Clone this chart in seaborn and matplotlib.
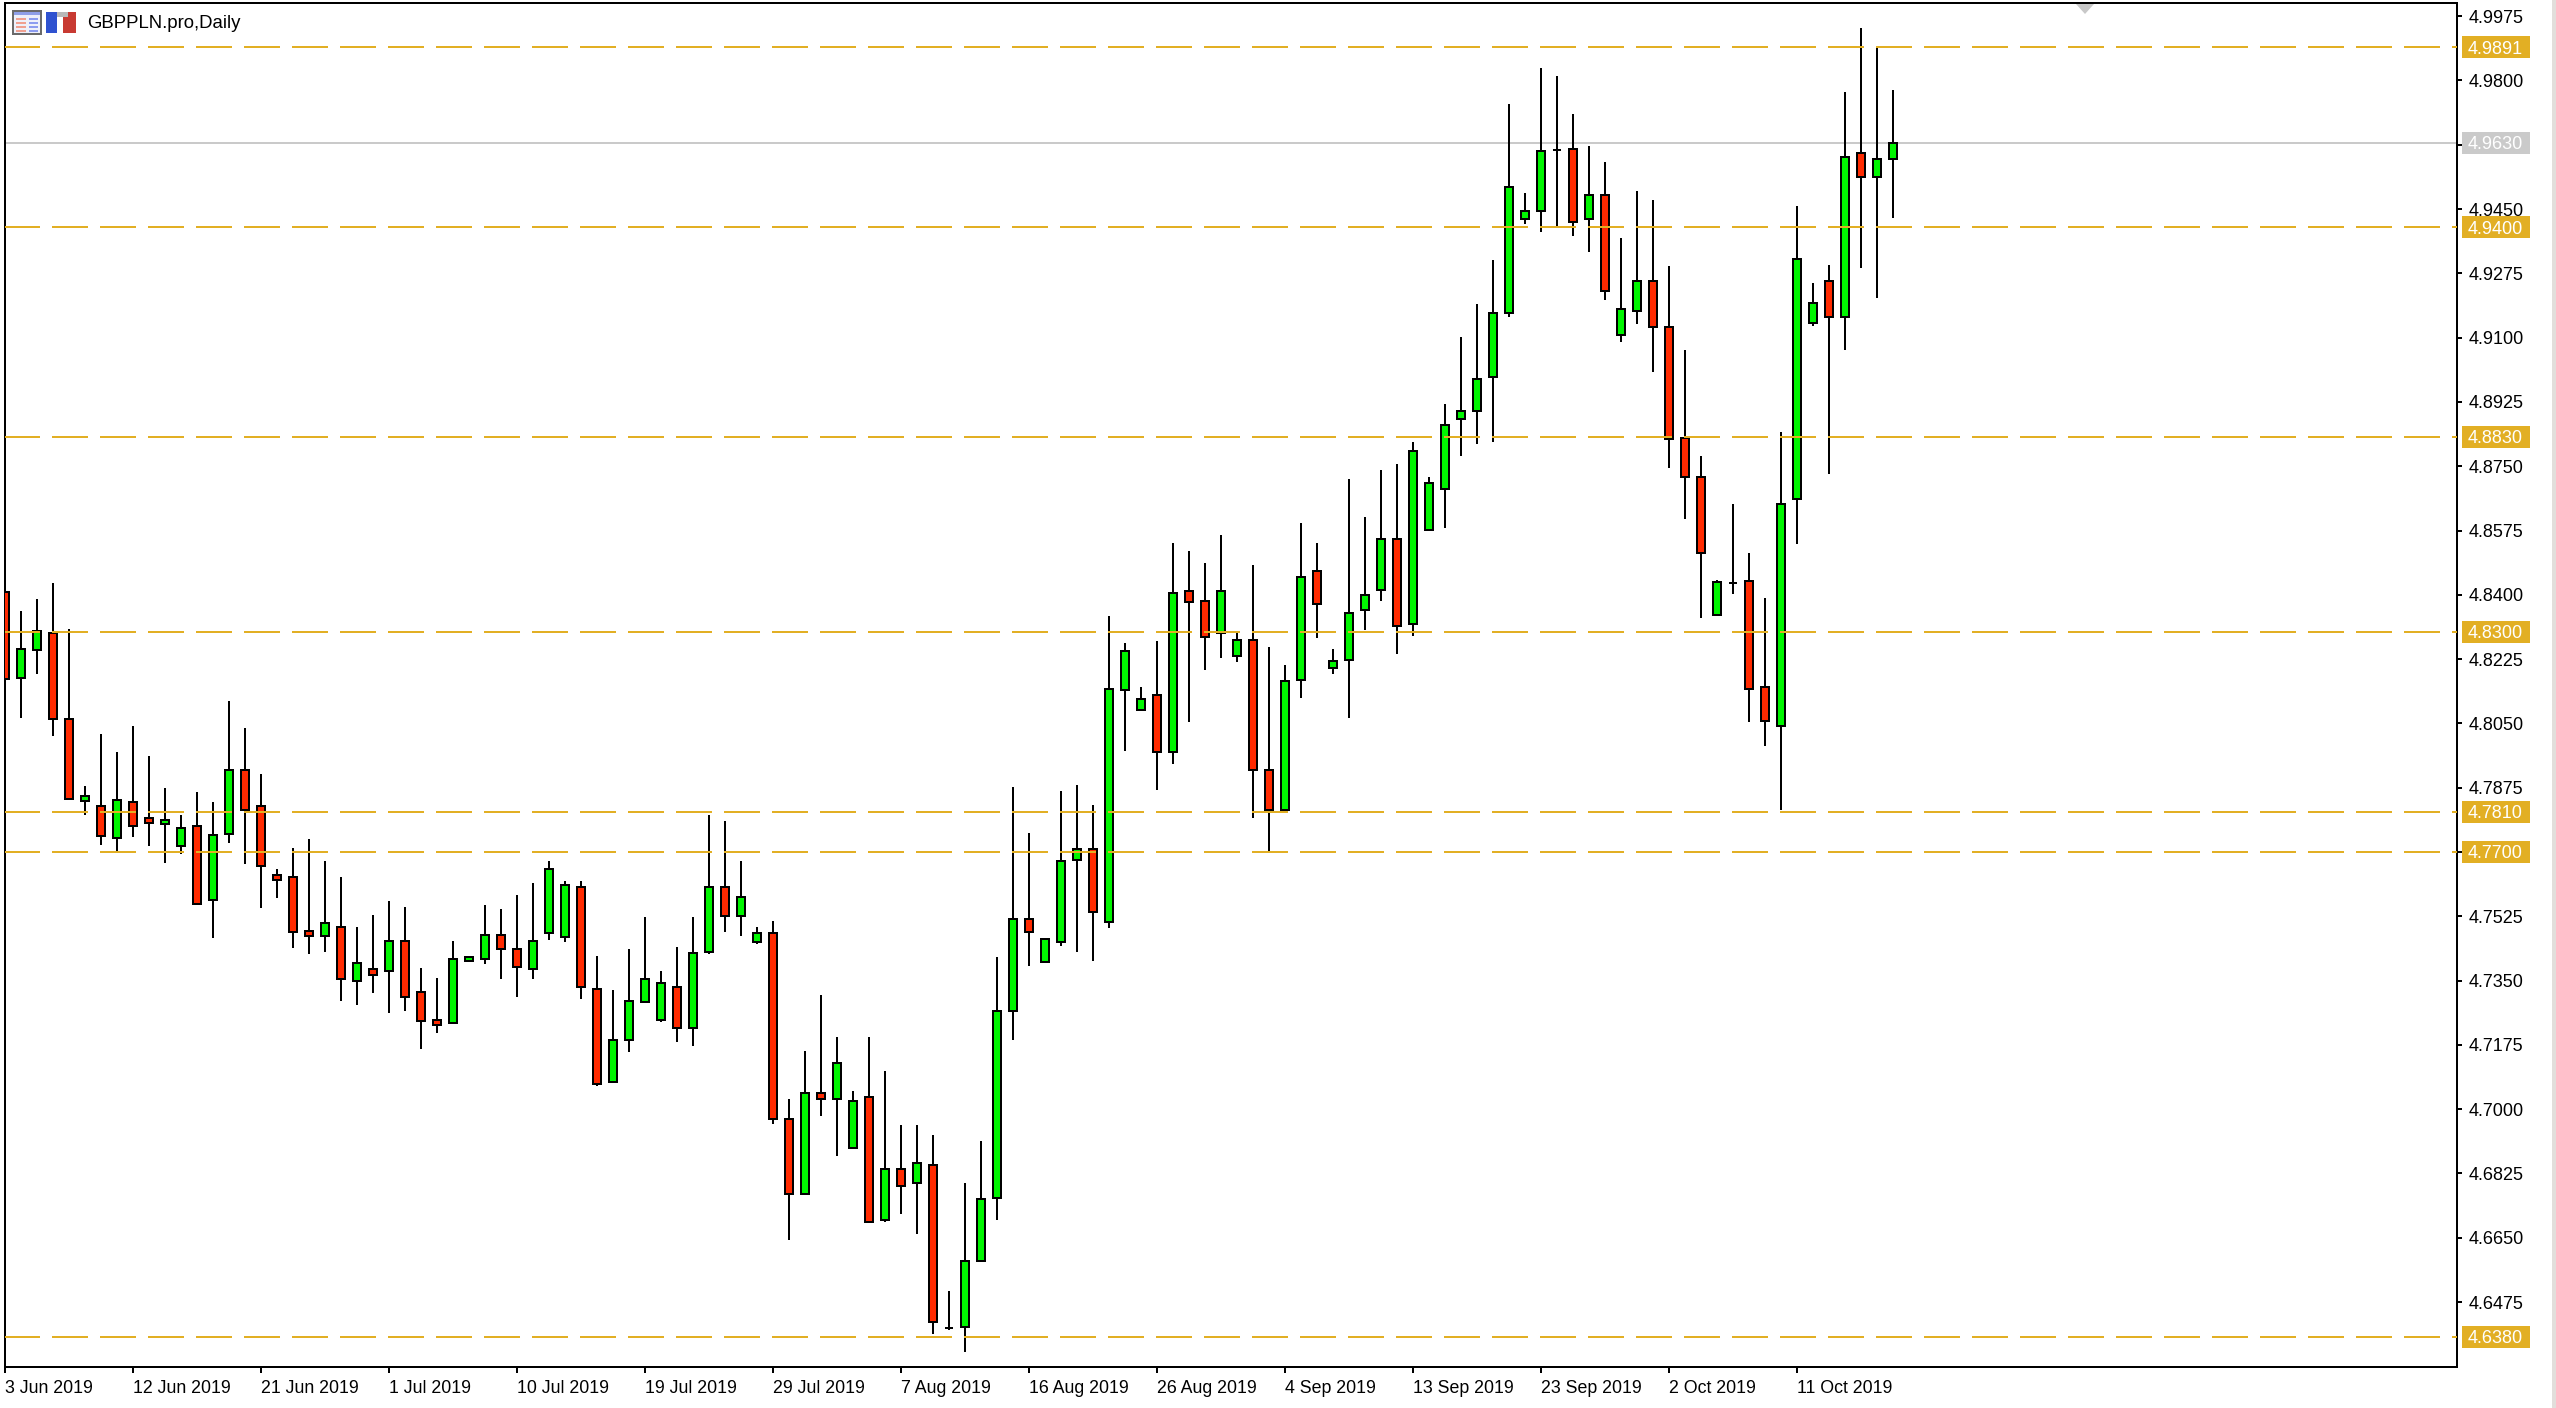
"""GBPPLN.pro daily candles with support/resistance levels"""
import seaborn as sns
import matplotlib.pyplot as plt
import pandas as pd
import numpy as np
from matplotlib.patches import Rectangle, Polygon

W, H = 2556, 1408
GOLD, GREY = '#e2af24', '#cacaca'
UP, DOWN = '#00f500', '#ff2a00'

opens = [4.8408, 4.8174, 4.8251, 4.8295, 4.8063, 4.7840, 4.7826, 4.7737, 4.7836, 4.7793,
         4.7775, 4.7716, 4.7772, 4.7570, 4.7748, 4.7922, 4.7826, 4.7636, 4.7631, 4.7485,
         4.7472, 4.7495, 4.7349, 4.7382, 4.7376, 4.7459, 4.7318, 4.7242, 4.7235, 4.7403,
         4.7408, 4.7474, 4.7437, 4.7381, 4.7479, 4.7468, 4.7604, 4.7328, 4.7073, 4.7187,
         4.7293, 4.7243, 4.7332, 4.7222, 4.7429, 4.7604, 4.7526, 4.7456, 4.7479, 4.6973,
         4.6770, 4.7044, 4.7027, 4.6895, 4.7033, 4.6699, 4.6837, 4.6798, 4.6848, 4.6404,
         4.6407, 4.6586, 4.6759, 4.7266, 4.7517, 4.7401, 4.7456, 4.7679, 4.7707, 4.7510,
         4.8141, 4.8087, 4.8127, 4.7972, 4.8410, 4.8383, 4.8295, 4.8234, 4.8278, 4.7924,
         4.7815, 4.8168, 4.8464, 4.8201, 4.8223, 4.8359, 4.8413, 4.8551, 4.8321, 4.8577,
         4.8687, 4.8878, 4.8900, 4.8992, 4.9166, 4.9422, 4.9444, 4.9611, 4.9614, 4.9422,
         4.9489, 4.9106, 4.9172, 4.9255, 4.9130, 4.8826, 4.8721, 4.8344, 4.8432, 4.8438,
         4.8149, 4.8044, 4.8661, 4.9139, 4.9255, 4.9156, 4.9602, 4.9537, 4.9586]
closes = [4.8171, 4.8252, 4.8301, 4.8061, 4.7845, 4.7853, 4.7743, 4.7841, 4.7770, 4.7780,
          4.7787, 4.7766, 4.7559, 4.7745, 4.7922, 4.7813, 4.7662, 4.7624, 4.7483, 4.7472,
          4.7507, 4.7354, 4.7399, 4.7364, 4.7459, 4.7305, 4.7241, 4.7229, 4.7410, 4.7415,
          4.7474, 4.7435, 4.7386, 4.7459, 4.7653, 4.7609, 4.7332, 4.7068, 4.7188, 4.7294,
          4.7354, 4.7343, 4.7222, 4.7425, 4.7604, 4.7526, 4.7577, 4.7479, 4.6972, 4.6770,
          4.7044, 4.7027, 4.7126, 4.7022, 4.6694, 4.6837, 4.6792, 4.6853, 4.6422, 4.6404,
          4.6586, 4.6755, 4.7267, 4.7517, 4.7483, 4.7462, 4.7675, 4.7707, 4.7538, 4.8143,
          4.8246, 4.8116, 4.7972, 4.8404, 4.8381, 4.8284, 4.8410, 4.8278, 4.7924, 4.7815,
          4.8165, 4.8448, 4.8375, 4.8219, 4.8350, 4.8399, 4.8551, 4.8315, 4.8792, 4.8705,
          4.8863, 4.8901, 4.8988, 4.9168, 4.9511, 4.9446, 4.9609, 4.9611, 4.9416, 4.9489,
          4.9226, 4.9179, 4.9255, 4.9128, 4.8824, 4.8720, 4.8513, 4.8434, 4.8432, 4.8143,
          4.8056, 4.8646, 4.9315, 4.9195, 4.9156, 4.9592, 4.9537, 4.9587, 4.9631]
highs = [4.8408, 4.8356, 4.8388, 4.8431, 4.8307, 4.7880, 4.8021, 4.7972, 4.8042, 4.7961,
         4.7875, 4.7800, 4.7864, 4.7837, 4.8112, 4.8037, 4.7913, 4.7654, 4.7712, 4.7735,
         4.7675, 4.7632, 4.7496, 4.7529, 4.7567, 4.7551, 4.7383, 4.7356, 4.7459, 4.7415,
         4.7556, 4.7546, 4.7583, 4.7616, 4.7675, 4.7621, 4.7621, 4.7416, 4.7324, 4.7437,
         4.7523, 4.7376, 4.7442, 4.7523, 4.7801, 4.7785, 4.7676, 4.7496, 4.7513, 4.7028,
         4.7159, 4.7311, 4.7197, 4.7050, 4.7197, 4.7105, 4.6958, 4.6958, 4.6930, 4.6506,
         4.6800, 4.6914, 4.7415, 4.7877, 4.7752, 4.7462, 4.7866, 4.7882, 4.7828, 4.8341,
         4.8269, 4.8149, 4.8275, 4.8541, 4.8520, 4.8487, 4.8563, 4.8300, 4.8481, 4.8258,
         4.8209, 4.8596, 4.8541, 4.8253, 4.8715, 4.8612, 4.8740, 4.8756, 4.8815, 4.8722,
         4.8918, 4.9103, 4.9191, 4.9310, 4.9735, 4.9495, 4.9833, 4.9811, 4.9708, 4.9621,
         4.9577, 4.9370, 4.9499, 4.9474, 4.9294, 4.9065, 4.8777, 4.8439, 4.8647, 4.8515,
         4.8390, 4.8843, 4.9457, 4.9250, 4.9299, 4.9768, 4.9942, 4.9887, 4.9773]
lows = [4.8171, 4.8066, 4.8185, 4.8017, 4.7845, 4.7801, 4.7720, 4.7703, 4.7742, 4.7715,
        4.7671, 4.7694, 4.7559, 4.7467, 4.7724, 4.7666, 4.7548, 4.7575, 4.7440, 4.7423,
        4.7429, 4.7294, 4.7283, 4.7315, 4.7261, 4.7267, 4.7163, 4.7207, 4.7235, 4.7403,
        4.7396, 4.7353, 4.7304, 4.7353, 4.7461, 4.7456, 4.7300, 4.7062, 4.7073, 4.7156,
        4.7293, 4.7237, 4.7183, 4.7172, 4.7423, 4.7482, 4.7471, 4.7450, 4.6960, 4.6644,
        4.6770, 4.6982, 4.6873, 4.6895, 4.6694, 4.6693, 4.6715, 4.6661, 4.6388, 4.6399,
        4.6340, 4.6586, 4.6698, 4.7187, 4.7389, 4.7401, 4.7444, 4.7427, 4.7404, 4.7493,
        4.7976, 4.8087, 4.7868, 4.7939, 4.8053, 4.8195, 4.8227, 4.8217, 4.7792, 4.7696,
        4.7815, 4.8119, 4.8282, 4.8184, 4.8064, 4.8303, 4.8384, 4.8238, 4.8287, 4.8577,
        4.8581, 4.8779, 4.8811, 4.8817, 4.9155, 4.9410, 4.9388, 4.9403, 4.9377, 4.9334,
        4.9203, 4.9089, 4.9138, 4.9007, 4.8746, 4.8605, 4.8338, 4.8344, 4.8403, 4.8054,
        4.7988, 4.7814, 4.8539, 4.9132, 4.8730, 4.9067, 4.9290, 4.9209, 4.9426]

level_prices = [4.9891, 4.9400, 4.8830, 4.8300, 4.7810, 4.7700, 4.6380]
level_labels = ['4.9891', '4.9400', '4.8830', '4.8300', '4.7810', '4.7700', '4.6380']
last_price = 4.9630
price_ticks = [4.9975, 4.9800, 4.9625, 4.9450, 4.9275, 4.9100, 4.8925, 4.8750, 4.8575, 4.8400,
               4.8225, 4.8050, 4.7875, 4.7700, 4.7525, 4.7350, 4.7175, 4.7000, 4.6825, 4.6650,
               4.6475]
date_ticks = [0, 8, 16, 24, 32, 40, 48, 56, 64, 72, 80, 88, 96, 104, 112]
date_labels = ['3 Jun 2019', '12 Jun 2019', '21 Jun 2019', '1 Jul 2019', '10 Jul 2019',
               '19 Jul 2019', '29 Jul 2019', '7 Aug 2019', '16 Aug 2019', '26 Aug 2019',
               '4 Sep 2019', '13 Sep 2019', '23 Sep 2019', '2 Oct 2019', '11 Oct 2019']

sns.set_theme(style='white', rc={'lines.scale_dashes': False, 'axes.linewidth': 1.44,
                                 'axes.edgecolor': 'black', 'figure.facecolor': 'white'})
plt.rcParams['font.family'] = ['Liberation Sans', 'DejaVu Sans']

df = pd.DataFrame({'idx': np.arange(len(opens)), 'open': opens, 'close': closes,
                   'high': highs, 'low': lows})
wicks = df.melt(id_vars='idx', value_vars=['high', 'low'], value_name='price')

fig = plt.figure(figsize=(W / 100, H / 100), dpi=100)
ax = fig.add_axes([5 / W, 1 - 1367 / H, 2452 / W, 1364 / H])

ax.axhline(last_price, color=GREY, lw=1.44, zorder=1, snap=True)

sns.lineplot(data=wicks, x='idx', y='price', units='idx', estimator=None, color='black',
             lw=1.44, solid_capstyle='butt', ax=ax, legend=False, zorder=2)

bottoms = df[['open', 'close']].min(axis=1)
heights = (df['close'] - df['open']).abs()
colors = [UP if c > o else DOWN for o, c in zip(opens, closes)]
ax.bar(df['idx'], heights, bottom=bottoms, width=0.52, color=colors,
       edgecolor='black', linewidth=1.44, zorder=3)

for p in level_prices:
    ax.axhline(p, color=GOLD, lw=1.44, ls=(0.72, (25.92, 8.64)), zorder=4, snap=True)

ax.set_xlim(0, 153.25)
ax.set_ylim(4.62982, 5.00108)
ax.yaxis.tick_right()
ax.set_yticks(price_ticks, [f'{p:.4f}' for p in price_ticks])
ax.set_xticks(date_ticks, date_labels, ha='left')
ax.tick_params(axis='y', length=3.6, width=1.44, pad=4.5, labelsize=13, colors='black', right=True)
ax.tick_params(axis='x', length=4.6, width=1.44, pad=5, labelsize=12.8, colors='black', bottom=True)
ax.set_xlabel('')
ax.set_ylabel('')
ax.grid(False)

trans = ax.get_yaxis_transform()
px_x, px_y = 1 / 2452, (5.00108 - 4.62982) / 1364
for p, lab in zip(level_prices + [last_price], level_labels + [f'{last_price:.4f}']):
    ax.add_patch(Rectangle((1 + 5 * px_x, p - 11 * px_y), 68 * px_x, 22 * px_y, transform=trans,
                           fc=GREY if p == last_price else GOLD, ec='none', clip_on=False, zorder=20))
    ax.text(1 + 11 * px_x, p, lab, transform=trans, ha='left', va='center_baseline', color='white',
            fontsize=13, zorder=21, clip_on=False)

fig.text(87 / W, 1 - 24 / H, 'GBPPLN.pro,Daily', ha='left', va='center', fontsize=13.4, color='black')


def px_rect(x, y, w, h, **kw):
    fig.add_artist(Rectangle((x / W, 1 - (y + h) / H), w / W, h / H,
                             transform=fig.transFigure, lw=0, **kw))


# toolbar icons in the corner
px_rect(12, 10, 30, 25, fc='#6a6a6a')
px_rect(14, 12, 26, 21, fc='#eef0fa')
px_rect(14, 12, 26, 3, fc='#8f9fe8')
for y in (18, 22, 26, 30):
    px_rect(16, y, 10, 2, fc='#f0a090')
    px_rect(29, y, 9, 2, fc='#8c9cf0')
px_rect(46, 12, 12, 21, fc='#2f52d0')
px_rect(63, 12, 13, 21, fc='#c83a32')
px_rect(57, 12, 11, 5, fc='#b8b8b8')
px_rect(57, 17, 6, 16, fc='#ffffff')

# window edge on the right, shift marker on the top spine
px_rect(2552, 0, 4, H, fc='#e2dedb')
fig.add_artist(Polygon([(2076 / W, 1 - 4 / H), (2094 / W, 1 - 4 / H), (2085 / W, 1 - 14 / H)],
                       transform=fig.transFigure, fc='#c8c8c8', lw=0))

plt.savefig('out.png', dpi=100, facecolor='white')
